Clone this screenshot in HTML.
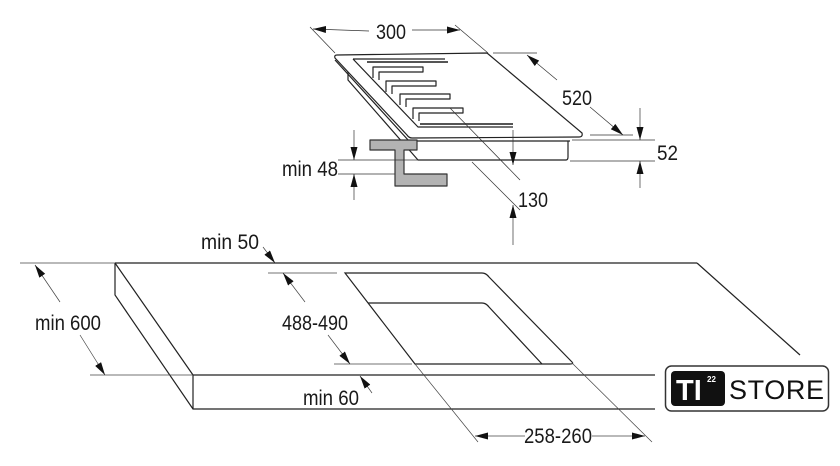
<!DOCTYPE html>
<html><head><meta charset="utf-8"><style>
html,body{margin:0;padding:0;background:#fff}
svg{display:block}
text{font-family:"Liberation Sans",sans-serif;fill:#1a1a1a}
</style></head><body>
<svg width="840" height="466" viewBox="0 0 840 466" xmlns="http://www.w3.org/2000/svg">
<defs>
<marker id="a" markerWidth="14" markerHeight="8" refX="13" refY="3.5" orient="auto" markerUnits="userSpaceOnUse">
<path d="M0,0 L13,3.5 L0,7 Z" fill="#111"/>
</marker>
</defs>
<g fill="none" stroke="#222" stroke-width="1.2" stroke-linejoin="round">
<path d="M337,55 L487,53 L582,133 Q583,137 579,137 L412,138 Q409,138 407,135 L335,58 Q334,55 337,55 Z"/>
<path d="M335,60 L409,141 L570,141"/>
<path d="M348,72 L348,80 L418,160 L566,160 Q568,160 568,157 L568,141"/>
<path d="M353,59 L445,59 M353,59 L418,127 L513,127"/>
<path d="M367,62 L448,62 M420,124 L513,124" stroke="#555" stroke-width="2"/>
<polyline points="373,78 373,67 423,67 423,72 379,72 379,80"/>
<polyline points="386,92 386,81 436,81 436,86 392,86 392,94"/>
<polyline points="400,105 400,94 450,94 450,99 406,99 406,107"/>
<polyline points="413,119 413,108 463,108 463,113 419,113 419,121"/>
<polygon points="370,140 417,140 417,150 404,150 404,174 447,174 447,186 395,186 395,150 370,150" fill="#b3b3b3" stroke="#333"/>
</g>
<g fill="none" stroke="#333" stroke-width="0.7">
<line x1="310" y1="27" x2="335" y2="53"/>
<line x1="455" y1="25" x2="488" y2="53"/>
<line x1="369" y1="31" x2="313" y2="29" marker-end="url(#a)"/>
<line x1="412" y1="30" x2="460" y2="30" marker-end="url(#a)"/>
<line x1="493" y1="53" x2="537" y2="53"/>
<line x1="590" y1="135" x2="633" y2="135"/>
<line x1="557" y1="80" x2="527" y2="55" marker-end="url(#a)"/>
<line x1="590" y1="107" x2="623" y2="135" marker-end="url(#a)"/>
<line x1="572" y1="140" x2="655" y2="140"/>
<line x1="570" y1="161" x2="655" y2="161"/>
<line x1="640" y1="108" x2="640" y2="140" marker-end="url(#a)"/>
<line x1="640" y1="188" x2="640" y2="161" marker-end="url(#a)"/>
<line x1="338" y1="160" x2="418" y2="160"/>
<line x1="338" y1="174" x2="395" y2="174"/>
<line x1="354" y1="130" x2="354" y2="160" marker-end="url(#a)"/>
<line x1="354" y1="200" x2="354" y2="174" marker-end="url(#a)"/>
<line x1="450" y1="108" x2="520" y2="180"/>
<line x1="472" y1="162" x2="520" y2="210"/>
<line x1="513" y1="130" x2="513" y2="165" marker-end="url(#a)"/>
<line x1="513" y1="245" x2="513" y2="205" marker-end="url(#a)"/>
</g>
<g fill="none" stroke="#222" stroke-width="1.2">
<line x1="115" y1="263" x2="697" y2="263"/>
<line x1="697" y1="263" x2="800" y2="355"/>
<path d="M115,263 L115,295 L193,409 L655,409"/>
<path d="M115,263 L193,375 L655,375 M193,375 L193,409"/>
<path d="M345,273 L482,273 Q486,273 489,277 L572,362 Q574,364 570,364 L415,364 Z"/>
<path d="M368,303 L482,303 Q486,303 489,307 L542,364"/>
</g>
<g fill="none" stroke="#444" stroke-width="0.7">
<line x1="20" y1="263" x2="115" y2="263"/>
<line x1="90" y1="375" x2="193" y2="375"/>
<line x1="268" y1="273" x2="337" y2="273"/>
<line x1="334" y1="364" x2="412" y2="364"/>
<line x1="415" y1="364" x2="478" y2="442"/>
<line x1="572" y1="363" x2="652" y2="442"/>
<line x1="60" y1="302" x2="35" y2="265" marker-end="url(#a)"/>
<line x1="80" y1="335" x2="105" y2="375" marker-end="url(#a)"/>
<line x1="305" y1="302" x2="283" y2="273" marker-end="url(#a)"/>
<line x1="328" y1="335" x2="350" y2="364" marker-end="url(#a)"/>
<line x1="263" y1="247" x2="275" y2="263" marker-end="url(#a)"/>
<line x1="372" y1="393" x2="360" y2="376" marker-end="url(#a)"/>
<line x1="525" y1="436" x2="475" y2="436" marker-end="url(#a)"/>
<line x1="592" y1="436" x2="645" y2="436" marker-end="url(#a)"/>
</g>
<g font-size="21">
<text x="376" y="39" textLength="30" lengthAdjust="spacingAndGlyphs">300</text>
<text x="562" y="105" textLength="30" lengthAdjust="spacingAndGlyphs">520</text>
<text x="657" y="160" textLength="21" lengthAdjust="spacingAndGlyphs">52</text>
<text x="282" y="176" textLength="56" lengthAdjust="spacingAndGlyphs">min 48</text>
<text x="518" y="207" textLength="30" lengthAdjust="spacingAndGlyphs">130</text>
<text x="201" y="249" textLength="58" lengthAdjust="spacingAndGlyphs">min 50</text>
<text x="35" y="330" textLength="66" lengthAdjust="spacingAndGlyphs">min 600</text>
<text x="282" y="330" textLength="66" lengthAdjust="spacingAndGlyphs">488-490</text>
<text x="303" y="405" textLength="56" lengthAdjust="spacingAndGlyphs">min 60</text>
<text x="524" y="443" textLength="68" lengthAdjust="spacingAndGlyphs">258-260</text>
</g>
<rect x="665.5" y="366" width="163" height="45" rx="6" fill="#fff" stroke="#333" stroke-width="1.5"/>
<rect x="671" y="371" width="54" height="35" rx="4" fill="#111"/>
<text x="676" y="400" font-weight="bold" font-size="29" style="fill:#fff">TI</text>
<text x="707" y="382" font-size="8" font-weight="bold" style="fill:#fff">22</text>
<text x="729" y="399" font-size="27" style="fill:#111" textLength="95">STORE</text>
</svg>
</body></html>
